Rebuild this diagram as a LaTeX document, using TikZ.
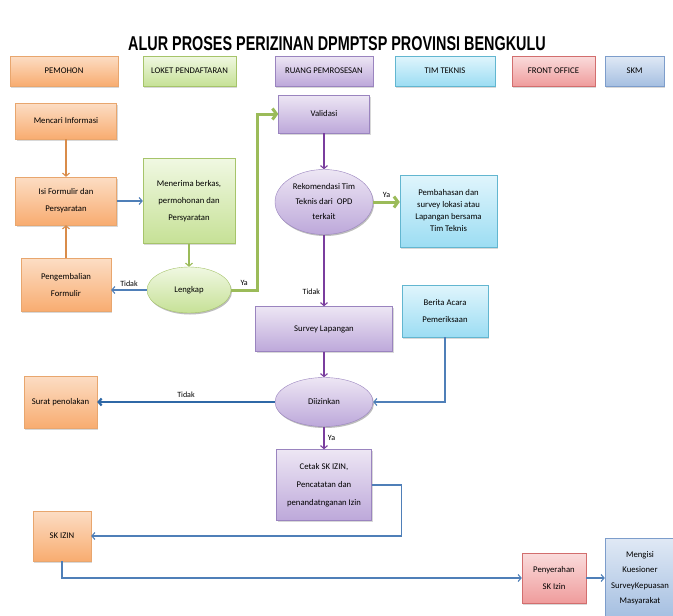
\documentclass[tikz,border=0pt]{standalone}
\usepackage{fontspec}
\setmainfont{Carlito}
\newfontfamily\titlefont{Liberation Sans}
\usepackage{graphicx}
\usepackage{tikz}
\usetikzlibrary{arrows.meta}
\usetikzlibrary{positioning}
\usetikzlibrary{shapes.geometric}
\usetikzlibrary{shadows}

\definecolor{orTop}{HTML}{FCDDC4}
\definecolor{orBot}{HTML}{F8AC70}
\definecolor{orDraw}{HTML}{E8A66E}
\definecolor{grTop}{HTML}{F0F8E2}
\definecolor{grBot}{HTML}{C6E196}
\definecolor{grDraw}{HTML}{A6C46A}
\definecolor{puTop}{HTML}{EDE6F4}
\definecolor{puBot}{HTML}{BDA8DA}
\definecolor{puDraw}{HTML}{9A84BF}
\definecolor{cyTop}{HTML}{E0F5FC}
\definecolor{cyBot}{HTML}{9CDDF3}
\definecolor{cyDraw}{HTML}{62B6D0}
\definecolor{reTop}{HTML}{FADCDC}
\definecolor{reBot}{HTML}{EF9C9C}
\definecolor{reDraw}{HTML}{D26E6E}
\definecolor{blTop}{HTML}{E0E9F5}
\definecolor{blBot}{HTML}{A5BFE1}
\definecolor{blDraw}{HTML}{7D9DCB}
\definecolor{blueLine}{HTML}{4F7FB8}
\definecolor{darkBlue}{HTML}{2F68A6}
\definecolor{orangeLine}{HTML}{D98C4A}
\definecolor{greenLine}{HTML}{9BBB59}
\definecolor{purpleLine}{HTML}{7A3E9E}

\begin{document}
\begin{tikzpicture}[x=1pt, y=-1pt, node distance=80pt, % 1 unit = 1 pixel of the chart
        box/.style={draw, rectangle, align=center, inner sep=2pt,
            font={\fontsize{8.7pt}{17pt}\selectfont},
            drop shadow={opacity=0.3, shadow xshift=1pt, shadow yshift=-1.5pt}},
        oval/.style={box, ellipse, inner sep=0pt},
        orangebox/.style={box, draw=orDraw, top color=orTop, bottom color=orBot},
        greenbox/.style={box, draw=grDraw, top color=grTop, bottom color=grBot},
        purplebox/.style={box, draw=puDraw, top color=puTop, bottom color=puBot},
        cyanbox/.style={box, draw=cyDraw, top color=cyTop, bottom color=cyBot},
        redbox/.style={box, draw=reDraw, top color=reTop, bottom color=reBot},
        bluebox/.style={box, draw=blDraw, top color=blTop, bottom color=blBot},
        header/.style={minimum height=30pt},
        lbl/.style={text=black, font={\fontsize{8pt}{9pt}\selectfont}},
        line/.style={-{Straight Barb[length=3pt, width=7pt]}, line width=1.1pt},
        thickline/.style={-{Straight Barb[length=4pt, width=11pt]}, line width=3pt}
    ]

        \clip (0,0) rectangle (673,616);
        \fill [white] (0,0) rectangle (673,616);

        % Title
        \node (title) at (337,44) {\scalebox{0.72}[1]{\titlefont\bfseries\fontsize{20pt}{22pt}\selectfont ALUR PROSES PERIZINAN DPMPTSP PROVINSI BENGKULU}};

        % Lanes
        \node [orangebox, header, minimum width=108pt] (hPemohon) at (64,71) {PEMOHON};
        \node [greenbox, header, minimum width=93pt, right of=hPemohon, node distance=125.5pt] (hLoket) {LOKET PENDAFTARAN};
        \node [purplebox, header, minimum width=98pt, right of=hLoket, node distance=134.5pt] (hRuang) {RUANG PEMROSESAN};
        \node [cyanbox, header, minimum width=100pt, right of=hRuang, node distance=121pt] (hTim) {TIM TEKNIS};
        \node [redbox, header, minimum width=83pt, right of=hTim, node distance=108.5pt] (hFront) {FRONT OFFICE};
        \node [bluebox, header, minimum width=59pt, right of=hFront, node distance=81pt] (hSkm) {SKM};

        % Pemohon / Loket
        \node [orangebox, minimum width=101pt, minimum height=36pt] (mencari) at (66,121) {Mencari Informasi};
        \node [orangebox, minimum width=101pt, minimum height=48pt, below of=mencari] (isi) {Isi Formulir dan\\Persyaratan};
        \node [orangebox, minimum width=90pt, minimum height=53pt, below of=isi, node distance=84pt] (pengembalian) {Pengembalian\\Formulir};
        \node [greenbox, minimum width=92pt, minimum height=85pt, right of=isi, node distance=123pt] (menerima) {Menerima berkas,\\permohonan dan\\Persyaratan};
        \node [greenbox, oval, minimum width=84pt, minimum height=46pt, below of=menerima, node distance=89pt] (lengkap) {Lengkap};

        % Ruang pemrosesan / Tim teknis
        \node [purplebox, minimum width=91pt, minimum height=38pt] (validasi) at (324,114) {Validasi};
        \node [purplebox, oval, minimum width=98pt, minimum height=65pt, below of=validasi, node distance=88pt,
            font={\fontsize{8.7pt}{15pt}\selectfont}] (rekomendasi) {Rekomendasi Tim\\Teknis dari\ \ OPD\\terkait};
        \node [cyanbox, minimum width=97pt, minimum height=72pt, font={\fontsize{8.7pt}{12pt}\selectfont}] (pembahasan) at (448.5,211) {Pembahasan dan\\survey lokasi atau\\Lapangan bersama\\Tim Teknis};
        \node [purplebox, minimum width=137pt, minimum height=45pt, below of=rekomendasi, node distance=127pt] (survey) {Survey Lapangan};
        \node [cyanbox, minimum width=86pt, minimum height=52pt] (berita) at (445,311) {Berita Acara\\Pemeriksaan};
        \node [purplebox, oval, minimum width=98pt, minimum height=49pt, below of=survey, node distance=73pt] (diizinkan) {Diizinkan};
        \node [orangebox, minimum width=73pt, minimum height=52pt] (surat) at (60.5,402) {Surat penolakan};
        \node [purplebox, minimum width=95pt, minimum height=71pt, below of=diizinkan, node distance=83pt,
            font={\fontsize{8.7pt}{18pt}\selectfont}] (cetak) {Cetak SK IZIN,\\Pencatatan dan\\penandatnganan Izin};

        % Penyerahan
        \node [orangebox, minimum width=58pt, minimum height=50pt] (skizin) at (62,536) {SK IZIN};
        \node [redbox, minimum width=64pt, minimum height=50pt] (penyerahan) at (554,578) {Penyerahan\\SK Izin};
        \node [bluebox, minimum width=70pt, minimum height=80pt, right of=penyerahan, node distance=86pt,
            font={\fontsize{8.7pt}{15.5pt}\selectfont}] (mengisi) {Mengisi\\Kuesioner\\SurveyKepuasan\\Masyarakat};

        % Connections (Arrows)
        \draw [line, orangeLine] (mencari) -- (isi);
        \draw [line, orangeLine] (pengembalian) -- (isi);
        \draw [line, blueLine] (isi) -- (menerima);
        \draw [line, greenLine] (menerima) -- (lengkap);
        \draw [line, blueLine] (lengkap.west) -- (lengkap.west -| pengembalian.east) node[midway, above, lbl] {Tidak};
        \draw [thickline, greenLine] (lengkap.east) -- ++(26,0) node[midway, above, lbl] {Ya} |- (validasi.west);
        \draw [line, purpleLine] (validasi) -- (rekomendasi);
        \draw [thickline, greenLine] (rekomendasi.east) -- (rekomendasi.east -| pembahasan.west) node[midway, above, lbl] {Ya};
        \draw [line, purpleLine] (rekomendasi) -- (survey) node[pos=0.8, left, lbl] {Tidak};
        \draw [line, purpleLine] (survey) -- (diizinkan);
        \draw [line, blueLine] (berita.south) |- (diizinkan.east);
        \draw [line, darkBlue, line width=2.2pt] (diizinkan.west) -- (diizinkan.west -| surat.east) node[midway, above, lbl] {Tidak};
        \draw [line, purpleLine] (diizinkan) -- (cetak) node[midway, right, lbl] {Ya};
        \draw [line, blueLine] (cetak.east) -- ++(30,0) |- (skizin.east);
        \draw [line, blueLine] (skizin.south) |- (penyerahan.west);
        \draw [line, blueLine] (penyerahan) -- (mengisi);

\end{tikzpicture}
\end{document}
